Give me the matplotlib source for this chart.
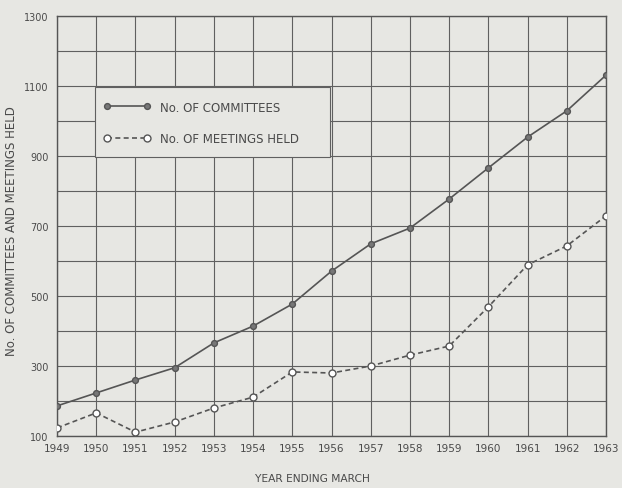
import matplotlib
matplotlib.use("Agg")
import matplotlib.pyplot as plt
from matplotlib.patches import Rectangle

years = [1949, 1950, 1951, 1952, 1953, 1954, 1955, 1956, 1957, 1958, 1959, 1960, 1961, 1962, 1963]
committees = [186, 223, 260, 295, 366, 414, 477, 571, 649, 694, 777, 866, 954, 1029, 1131]
meetings = [123, 166, 111, 140, 180, 211, 283, 280, 300, 331, 357, 469, 589, 643, 729]
ytick_labels = [100, 300, 500, 700, 900, 1100, 1300]

bg = "#e7e7e3"
ink = "#4a4a4a"

fig = plt.figure(figsize=(6.22, 4.89), dpi=100, facecolor=bg)
ax = fig.add_axes([57/622, 1-437/489, (606-57)/622, (437-17)/489])
ax.set_facecolor(bg)

ax.set_xlim(1949, 1963)
ax.set_ylim(100, 1300)
ax.set_xticks(years)
ax.set_xticklabels([str(y) for y in years], fontsize=7.5, color=ink)
ax.set_yticks(ytick_labels)
ax.set_yticklabels([str(v) for v in ytick_labels], fontsize=7, color=ink)
ax.set_yticks(range(100, 1301, 100), minor=True)
ax.tick_params(axis="x", which="both", length=0, pad=5)
ax.tick_params(axis="y", which="both", length=0, pad=6)
ax.grid(True, which="both", color="#606060", linewidth=0.8)
ax.set_axisbelow(True)
for s in ax.spines.values():
    s.set_color("#555555")
    s.set_linewidth(1.0)

ax.plot(years, committees, color="#555555", linewidth=1.2, marker="o",
        markersize=4.2, markerfacecolor="#777777", markeredgecolor="#555555",
        label="No. OF COMMITTEES", zorder=3)
ax.plot(years, meetings, color="#555555", linewidth=1.2, linestyle=(0, (3, 2)),
        marker="o", markersize=5, markerfacecolor="white", markeredgecolor="#555555",
        label="No. OF MEETINGS HELD", zorder=3)

# legend box (blank area over the grid)
box = Rectangle(((95-57)/549, (437-158)/420), (330-95)/549, (158-88)/420,
                transform=ax.transAxes, facecolor=bg, edgecolor="#606060",
                linewidth=0.8, zorder=2)
ax.add_patch(box)

leg = ax.legend(loc="upper left", bbox_to_anchor=((100-57)/549, (437-98)/420),
                fontsize=8.5, frameon=False, handlelength=4.0, numpoints=2,
                borderpad=0.3, labelspacing=1.6, borderaxespad=0,
                handletextpad=0.8)
leg.set_zorder(4)
for t in leg.get_texts():
    t.set_color(ink)

ax.set_ylabel("No. OF COMMITTEES AND MEETINGS HELD", fontsize=8.5, color=ink)
ax.yaxis.set_label_coords(-(57-18)/549, 0.49)
ax.set_xlabel("YEAR ENDING MARCH", fontsize=7.7, color=ink)
ax.xaxis.set_label_coords((312-57)/549, -(474-437)/420)

fig.savefig("out.png", dpi=100, facecolor=bg)
